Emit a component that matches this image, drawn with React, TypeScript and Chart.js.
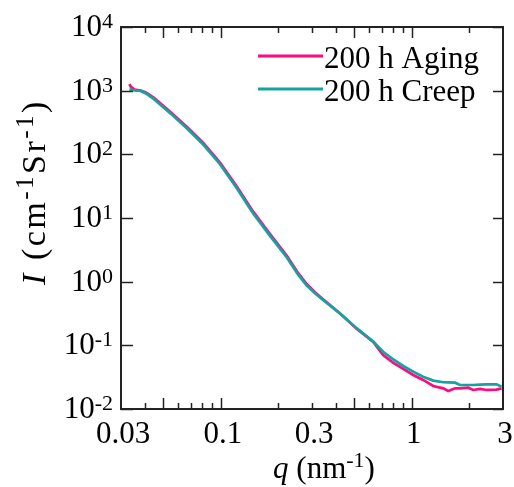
import React, { useEffect, useRef } from "react";
import { Chart, registerables } from "chart.js";

Chart.register(...registerables);

// ---- data ----
const qValues = [
  0.0332, 0.0338, 0.0354, 0.0381, 0.0405, 0.04465, 0.04977, 0.05483, 0.0669, 0.0813,
  0.0987, 0.1207, 0.147, 0.1808, 0.2215, 0.2539, 0.2814, 0.3098, 0.3438, 0.4196,
  0.5135, 0.6277, 0.7069, 0.8, 0.9011, 1.017, 1.145, 1.294, 1.46, 1.549,
  1.683, 1.786, 1.972, 2.094, 2.274, 2.462, 2.776, 2.95,
];
const agingValues = [
  1270, 1150, 1040, 1000, 935, 770, 585, 455, 265, 148,
  75, 31.8, 12.8, 5.6, 2.55, 1.36, 0.92, 0.69, 0.525, 0.32,
  0.183, 0.113, 0.0705, 0.053, 0.0426, 0.0342, 0.0286, 0.023, 0.0211, 0.0192,
  0.0211, 0.0211, 0.0216, 0.0199, 0.0207, 0.0199, 0.0202, 0.0211,
];
const creepValues = [
  1050, 1040, 1010, 990, 905, 735, 555, 432, 250, 140,
  70.5, 29.8, 12.0, 5.25, 2.4, 1.29, 0.87, 0.665, 0.51, 0.318,
  0.186, 0.115, 0.0794, 0.06, 0.0474, 0.0386, 0.0322, 0.0279, 0.0263, 0.0262,
  0.0259, 0.0238, 0.0238, 0.0238, 0.0241, 0.0244, 0.0244, 0.0224,
];
const seriesNames = ["200 h Aging", "200 h Creep"];
const seriesColors = ["#ff0a80", "#17a2a2"];

const xTickValues = [0.03, 0.1, 0.3, 1, 3];
const xTickLabels = ["0.03", "0.1", "0.3", "1", "3"];
const xMajorTicks = [0.05, 0.1, 0.5, 1];
const xMinorTicks = [0.04, 0.06, 0.07, 0.08, 0.09, 0.2, 0.3, 0.4, 0.6, 0.7, 0.8, 0.9, 2];
const yTickExponents = [-2, -1, 0, 1, 2, 3, 4];

const FONT = '"Liberation Serif", "Times New Roman", serif';
const MAIN = 31;
const SUP = 22;

type Seg = { t: string; sup?: boolean; italic?: boolean };

function segFont(s: Seg, main: number, sup: number) {
  return `${s.italic ? "italic " : ""}${s.sup ? sup : main}px ${FONT}`;
}
function segsWidth(ctx: CanvasRenderingContext2D, segs: Seg[], main: number, sup: number) {
  let w = 0;
  for (const s of segs) {
    ctx.font = segFont(s, main, sup);
    w += ctx.measureText(s.t).width;
  }
  return w;
}
function drawSegs(
  ctx: CanvasRenderingContext2D,
  segs: Seg[],
  x: number,
  y: number,
  main: number,
  sup: number,
  raise: number
) {
  let cx = x;
  ctx.textAlign = "left";
  ctx.textBaseline = "alphabetic";
  for (const s of segs) {
    ctx.font = segFont(s, main, sup);
    ctx.fillText(s.t, cx, s.sup ? y - raise : y);
    cx += ctx.measureText(s.t).width;
  }
}

const framePlugin = {
  id: "frameAndLabels",
  afterDraw(chart: any) {
    const ctx: CanvasRenderingContext2D = chart.ctx;
    const { left, right, top, bottom } = chart.chartArea;
    const xs = chart.scales.x;
    const ys = chart.scales.y;
    ctx.save();
    ctx.strokeStyle = "#222";
    ctx.fillStyle = "#000";

    const seg = (x1: number, y1: number, x2: number, y2: number) => {
      ctx.beginPath();
      ctx.moveTo(x1, y1);
      ctx.lineTo(x2, y2);
      ctx.stroke();
    };

    // ticks
    ctx.lineWidth = 1.5;
    for (const v of xMajorTicks) {
      const px = Math.round(xs.getPixelForValue(v)) + 0.5;
      seg(px, bottom, px, bottom - 11);
      seg(px, top, px, top + 11);
    }
    for (const v of xMinorTicks) {
      const px = Math.round(xs.getPixelForValue(v)) + 0.5;
      seg(px, bottom, px, bottom - 6);
      seg(px, top, px, top + 6);
    }
    for (const e of yTickExponents) {
      const py = Math.round(ys.getPixelForValue(Math.pow(10, e))) + 0.5;
      seg(left, py, left + 12, py);
      seg(right, py, right - 10, py);
    }

    // frame
    ctx.lineWidth = 2;
    ctx.strokeRect(left, top, right - left, bottom - top);

    // x tick labels
    ctx.font = `${MAIN}px ${FONT}`;
    ctx.textAlign = "center";
    ctx.textBaseline = "alphabetic";
    xTickValues.forEach((v, i) => {
      const px = xs.getPixelForValue(v);
      ctx.fillText(xTickLabels[i], px + 2, bottom + 34);
    });

    // y tick labels 10^e
    for (const e of yTickExponents) {
      const py = ys.getPixelForValue(Math.pow(10, e));
      const expStr = String(e);
      ctx.font = `${SUP}px ${FONT}`;
      const ew = ctx.measureText(expStr).width;
      ctx.font = `${MAIN}px ${FONT}`;
      const bw = ctx.measureText("10").width;
      const rightEdge = left - 8;
      ctx.textAlign = "left";
      ctx.fillText("10", rightEdge - ew - bw, py + 9);
      ctx.font = `${SUP}px ${FONT}`;
      ctx.fillText(expStr, rightEdge - ew, py + 1);
    }

    // x title
    const xt: Seg[] = [
      { t: "q", italic: true },
      { t: " (nm" },
      { t: "-1", sup: true },
      { t: ")" },
    ];
    const xw = segsWidth(ctx, xt, MAIN, SUP);
    drawSegs(ctx, xt, (left + right) / 2 + 12 - xw / 2, bottom + 69, MAIN, SUP, 11);

    // y title
    const yt: Seg[] = [
      { t: "I", italic: true },
      { t: " (cm" },
      { t: "-1", sup: true },
      { t: "Sr" },
      { t: "-1", sup: true },
      { t: ")" },
    ];
    ctx.save();
    (ctx as any).letterSpacing = "2.5px";
    const yw = segsWidth(ctx, yt, 34, 25);
    ctx.translate(45, 192);
    ctx.rotate(-Math.PI / 2);
    drawSegs(ctx, yt, -yw / 2, 0, 34, 25, 12);
    ctx.restore();

    // legend
    const lx1 = 258;
    const lx2 = 323;
    const ly = [56, 89];
    seriesNames.forEach((name, i) => {
      ctx.strokeStyle = seriesColors[i];
      ctx.lineWidth = 3;
      seg(lx1, ly[i], lx2, ly[i]);
      ctx.font = `${MAIN}px ${FONT}`;
      ctx.textAlign = "left";
      ctx.fillStyle = "#000";
      ctx.fillText(name, lx2 + 1, ly[i] + 12);
    });

    ctx.restore();
  },
};

export default function App() {
  const canvasRef = useRef<HTMLCanvasElement | null>(null);

  useEffect(() => {
    const canvas = canvasRef.current;
    if (!canvas) return;
    const chart = new Chart(canvas, {
      type: "line",
      data: {
        datasets: [
          {
            label: seriesNames[0],
            data: qValues.map((q, i) => ({ x: q, y: agingValues[i] })),
            borderColor: seriesColors[0],
            backgroundColor: seriesColors[0],
            borderWidth: 2.7,
            pointRadius: 0,
            tension: 0,
            fill: false,
            order: 1,
          },
          {
            label: seriesNames[1],
            data: qValues.map((q, i) => ({ x: q, y: creepValues[i] })),
            borderColor: seriesColors[1],
            backgroundColor: seriesColors[1],
            borderWidth: 2.7,
            pointRadius: 0,
            tension: 0,
            fill: false,
            order: 0,
          },
        ],
      },
      options: {
        responsive: false,
        animation: false,
        events: [],
        layout: { padding: { left: 121, top: 27, right: 11, bottom: 78 } },
        plugins: {
          legend: { display: false },
          tooltip: { enabled: false },
        },
        scales: {
          x: { type: "logarithmic", min: 0.03, max: 3, display: false },
          y: { type: "logarithmic", min: 0.01, max: 10000, display: false },
        },
      },
      plugins: [framePlugin],
    });
    return () => chart.destroy();
  }, []);

  return (
    <div style={{ position: "absolute", left: 0, top: 0, width: 514, height: 487, background: "#fff" }}>
      <canvas ref={canvasRef} width={514} height={487} style={{ display: "block" }} />
    </div>
  );
}
